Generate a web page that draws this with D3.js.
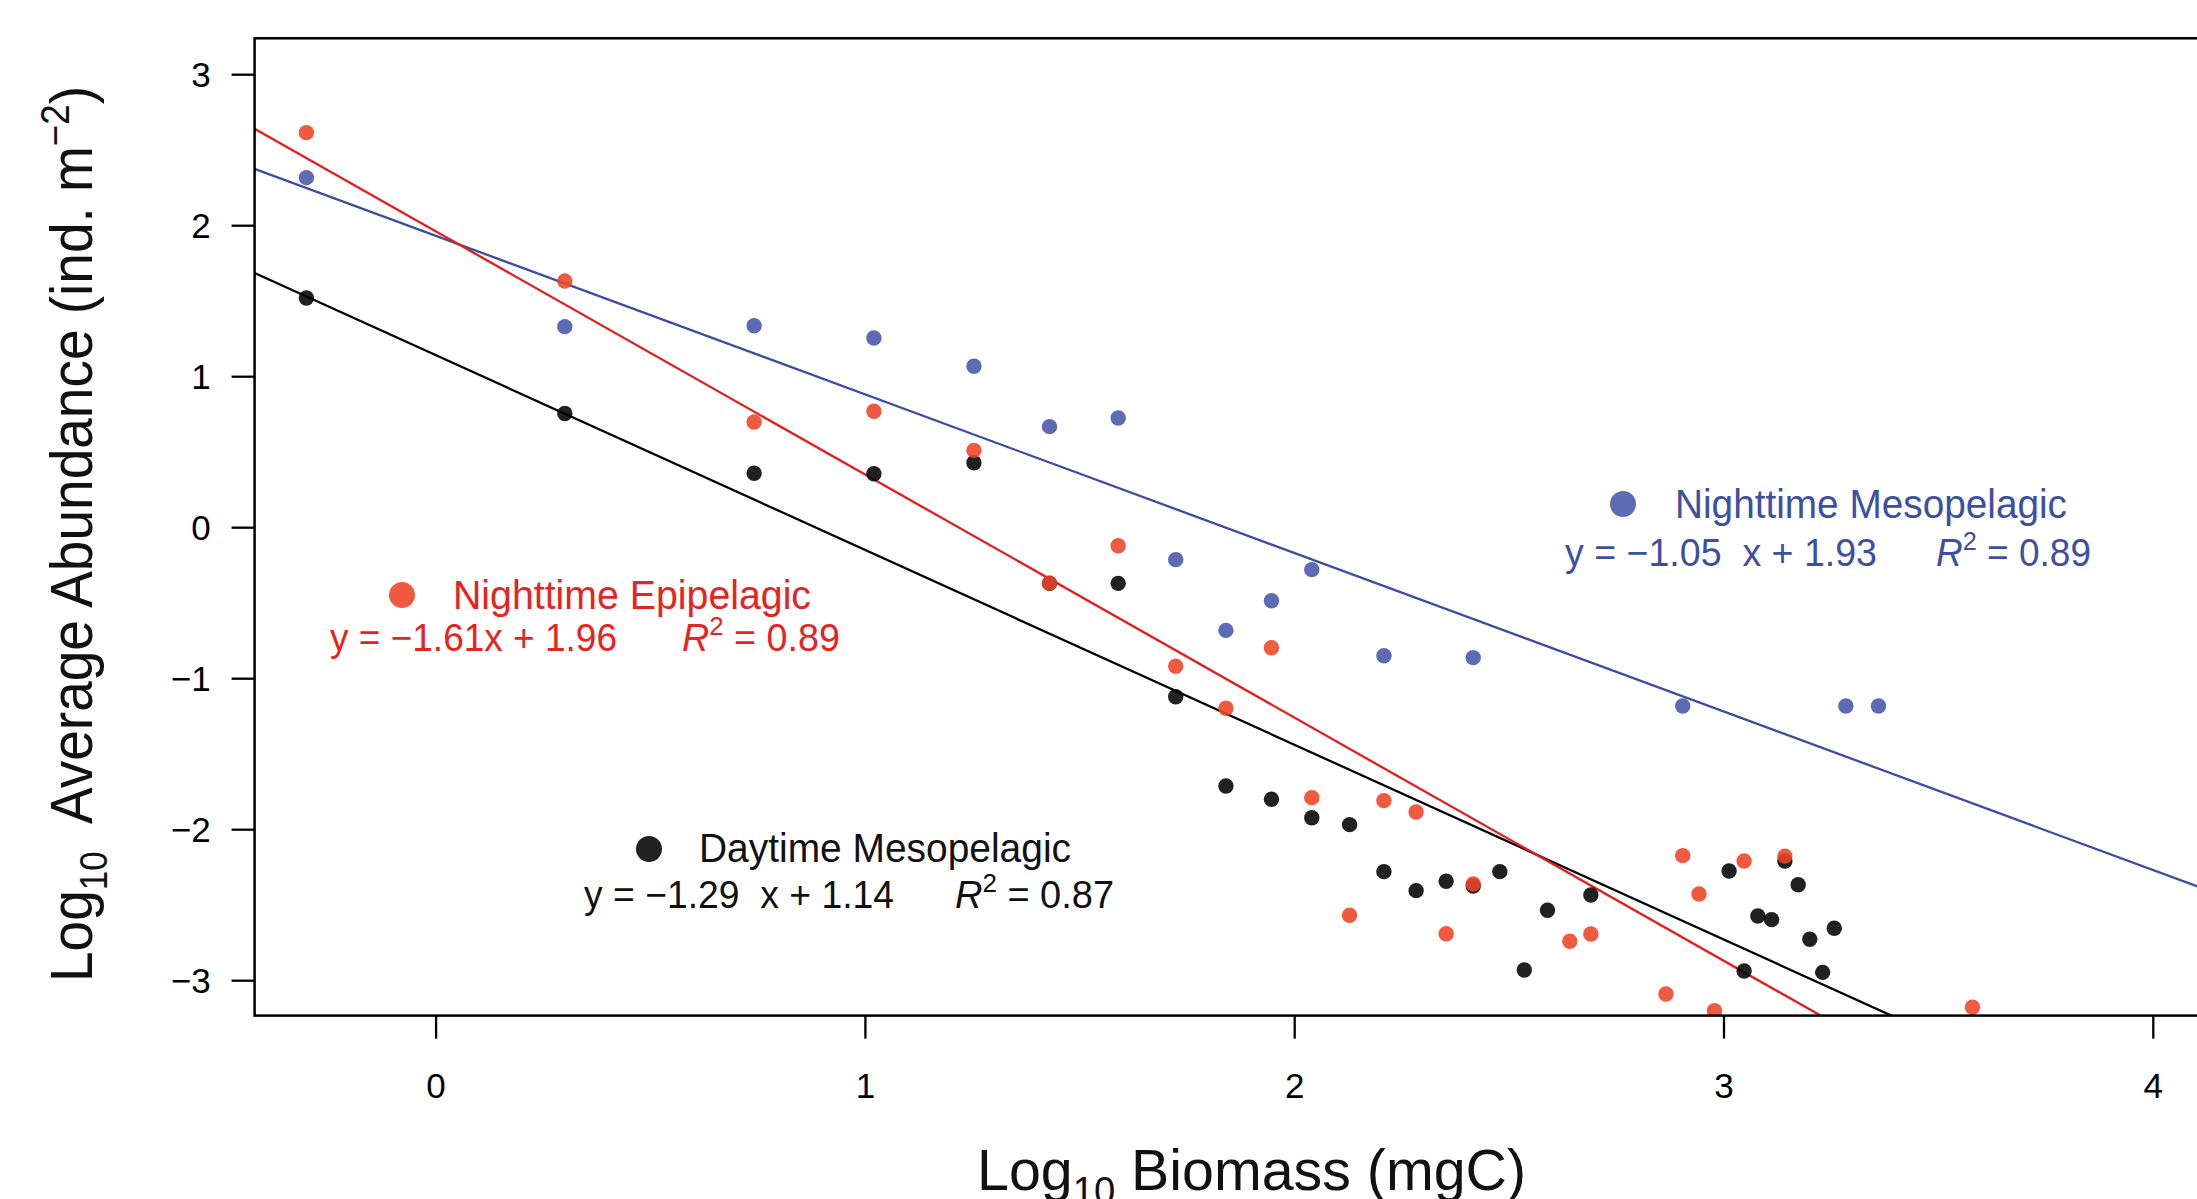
<!DOCTYPE html>
<html>
<head>
<meta charset="utf-8">
<script src="https://cdn.jsdelivr.net/npm/d3@7/dist/d3.min.js"></script>
<style>
  html, body { margin: 0; padding: 0; background: #fff; }
  svg { display: block; }
  text { font-family: "Liberation Sans", Arial, Helvetica, sans-serif; white-space: pre; }
</style>
</head>
<body>
<div id="container"></div>
<script>
// values, log10 units
var nightMesoX = [-0.301, 0.301, 0.742, 1.021, 1.254, 1.430, 1.590, 1.724, 1.841, 1.947, 2.041, 2.209, 2.417, 2.905, 3.285, 3.361];
var nightMesoY = [2.315, 1.328, 1.334, 1.253, 1.066, 0.666, 0.723, -0.215, -0.683, -0.487, -0.281, -0.851, -0.864, -1.184, -1.184, -1.184];

var nightEpiX = [-0.301, 0.301, 0.742, 1.021, 1.254, 1.430, 1.590, 1.724, 1.841, 1.947, 2.041, 2.129, 2.209, 2.284, 2.354, 2.417, 2.642, 2.691, 2.866, 2.905, 2.943, 2.979, 3.048, 3.143, 3.580];
var nightEpiY = [2.613, 1.630, 0.697, 0.768, 0.509, -0.370, -0.123, -0.921, -1.199, -0.798, -1.791, -2.570, -1.811, -1.886, -2.692, -2.363, -2.742, -2.694, -3.091, -2.175, -2.429, -3.202, -2.211, -2.178, -3.179];

var dayMesoX = [-0.301, 0.301, 0.742, 1.021, 1.254, 1.430, 1.590, 1.724, 1.841, 1.947, 2.041, 2.129, 2.209, 2.284, 2.354, 2.417, 2.479, 2.536, 2.590, 2.691, 3.013, 3.048, 3.080, 3.112, 3.143, 3.174, 3.201, 3.231, 3.258];
var dayMesoY = [1.518, 0.753, 0.357, 0.354, 0.427, -0.372, -0.372, -1.123, -1.714, -1.802, -1.924, -1.970, -2.281, -2.407, -2.345, -2.376, -2.281, -2.932, -2.537, -2.436, -2.277, -2.939, -2.575, -2.599, -2.211, -2.368, -2.729, -2.948, -2.656];

// fitted lines  y = slope * x + intercept
var seriesNames = ["Daytime Mesopelagic", "Nighttime Mesopelagic", "Nighttime Epipelagic"];
var slopes = [-1.29, -1.05, -1.61];
var intercepts = [1.14, 1.93, 1.96];
var eqLeft = ["y = \u22121.29  x + 1.14", "y = \u22121.05  x + 1.93", "y = \u22121.61x + 1.96"];
var rSquared = ["0.87", "0.89", "0.89"];

var xTicks = [0, 1, 2, 3, 4];
var yTicks = [-3, -2, -1, 0, 1, 2, 3];

// look
var dotFill = ["rgba(0,0,0,0.87)", "rgba(70,86,170,0.88)", "rgba(238,69,40,0.886)"];
var lineColor = ["#000000", "#3a4ea0", "#e41e1e"];
var textColor = ["#111111", "#3d4f9f", "#e8231f"];

// where the legend blocks sit: [dotX, dotY, labelX, labelBase, labelLen, eqX, eqBase, eqLen, rX, rLen]
var legendPos = [
  [649, 849, 699, 862, 372, 584, 908, 310, 955, 159],
  [1623, 504, 1675, 518, 392, 1565, 566, 312, 1936, 155],
  [402, 595, 453, 609, 358, 330, 651, 287, 682, 158]
];

var width = 2197, height = 1199;
var plotLeft = 254.6, plotTop = 38.3, plotBottom = 1015.6, plotRight = 2260;

var x = d3.scaleLinear().domain([0, 4]).range([435.6, 2152.8]);
var y = d3.scaleLinear().domain([-3, 3]).range([980.2, 74.2]);

var svg = d3.select("#container").append("svg")
    .attr("width", width)
    .attr("height", height);

svg.append("defs").append("clipPath").attr("id", "plotclip")
  .append("rect")
    .attr("x", plotLeft).attr("y", plotTop)
    .attr("width", plotRight - plotLeft).attr("height", plotBottom - plotTop);

var plot = svg.append("g").attr("clip-path", "url(#plotclip)");

// regression lines across the whole plot region
var xEnds = [x.invert(plotLeft), x.invert(plotRight)];
[1, 0, 2].forEach(function(i) {
    plot.append("line")
        .attr("x1", x(xEnds[0]))
        .attr("y1", y(slopes[i] * xEnds[0] + intercepts[i]))
        .attr("x2", x(xEnds[1]))
        .attr("y2", y(slopes[i] * xEnds[1] + intercepts[i]))
        .style("stroke", lineColor[i])
        .style("stroke-width", 2.3);
});

// points: daytime first, epipelagic on top
var pts = [
  d3.zip(dayMesoX, dayMesoY),
  d3.zip(nightMesoX, nightMesoY),
  d3.zip(nightEpiX, nightEpiY)
];
pts.forEach(function(p, i) {
    plot.append("g").selectAll("circle")
        .data(p)
        .enter().append("circle")
        .attr("cx", function(d) { return x(d[0]); })
        .attr("cy", function(d) { return y(d[1]); })
        .attr("r", 7.7)
        .style("fill", dotFill[i]);
});

// frame
svg.append("rect")
    .attr("x", plotLeft).attr("y", plotTop)
    .attr("width", plotRight - plotLeft).attr("height", plotBottom - plotTop)
    .style("fill", "none")
    .style("stroke", "#000")
    .style("stroke-width", 2.5);

// axes
var xAxis = svg.append("g")
    .attr("transform", "translate(0," + plotBottom + ")")
    .call(d3.axisBottom(x).tickValues(xTicks).tickSize(23).tickFormat(d3.format("d")));
xAxis.select(".domain").remove();
xAxis.selectAll("line").style("stroke", "#000").style("stroke-width", 2.3);
xAxis.selectAll("text")
    .attr("y", 82).attr("dy", null)
    .style("font-size", "35px").style("fill", "#000")
    .style("font-family", "'Liberation Sans', Arial, sans-serif");

var yAxis = svg.append("g")
    .attr("transform", "translate(" + plotLeft + ",0)")
    .call(d3.axisLeft(y).tickValues(yTicks).tickSize(23).tickFormat(d3.format("d")));
yAxis.select(".domain").remove();
yAxis.selectAll("line").style("stroke", "#000").style("stroke-width", 2.3);
yAxis.selectAll("text")
    .attr("x", -44).attr("dy", "0.36em")
    .style("font-size", "35px").style("fill", "#000")
    .style("font-family", "'Liberation Sans', Arial, sans-serif");

// axis titles
var xt = svg.append("text")
    .attr("x", 977).attr("y", 1190)
    .attr("textLength", 549).attr("lengthAdjust", "spacingAndGlyphs")
    .style("font-size", "57px").style("fill", "#111");
xt.append("tspan").text("Log");
xt.append("tspan").attr("dy", 14).style("font-size", "38px").text("10");
xt.append("tspan").attr("dy", -14).text(" Biomass (mgC)");

var yt = svg.append("text")
    .attr("transform", "translate(92,534) rotate(-90)")
    .attr("text-anchor", "middle")
    .attr("textLength", 896).attr("lengthAdjust", "spacingAndGlyphs")
    .style("font-size", "60px").style("fill", "#111");
yt.append("tspan").text("Log");
yt.append("tspan").attr("dy", 15).style("font-size", "38px").text("10");
yt.append("tspan").attr("dy", -15).text("  Average Abundance (ind. m");
yt.append("tspan").attr("dy", -23).style("font-size", "40px").text("\u22122");
yt.append("tspan").attr("dy", 23).text(")");

// legend blocks with the fit equations
legendPos.forEach(function(p, i) {
    var g = svg.append("g").style("fill", textColor[i]);
    g.append("circle")
        .attr("cx", p[0]).attr("cy", p[1]).attr("r", 13)
        .style("fill", dotFill[i]);
    g.append("text")
        .attr("x", p[2]).attr("y", p[3])
        .attr("textLength", p[4]).attr("lengthAdjust", "spacingAndGlyphs")
        .style("font-size", "40px")
        .text(seriesNames[i]);
    g.append("text")
        .attr("x", p[5]).attr("y", p[6])
        .attr("textLength", p[7]).attr("lengthAdjust", "spacingAndGlyphs")
        .style("font-size", "38px")
        .text(eqLeft[i]);
    var r = g.append("text")
        .attr("x", p[8]).attr("y", p[6])
        .attr("textLength", p[9]).attr("lengthAdjust", "spacingAndGlyphs")
        .style("font-size", "38px");
    r.append("tspan").style("font-style", "italic").text("R");
    r.append("tspan").attr("dy", -16).style("font-size", "26px").text("2");
    r.append("tspan").attr("dy", 16).text(" = " + rSquared[i]);
});
</script>
</body>
</html>
